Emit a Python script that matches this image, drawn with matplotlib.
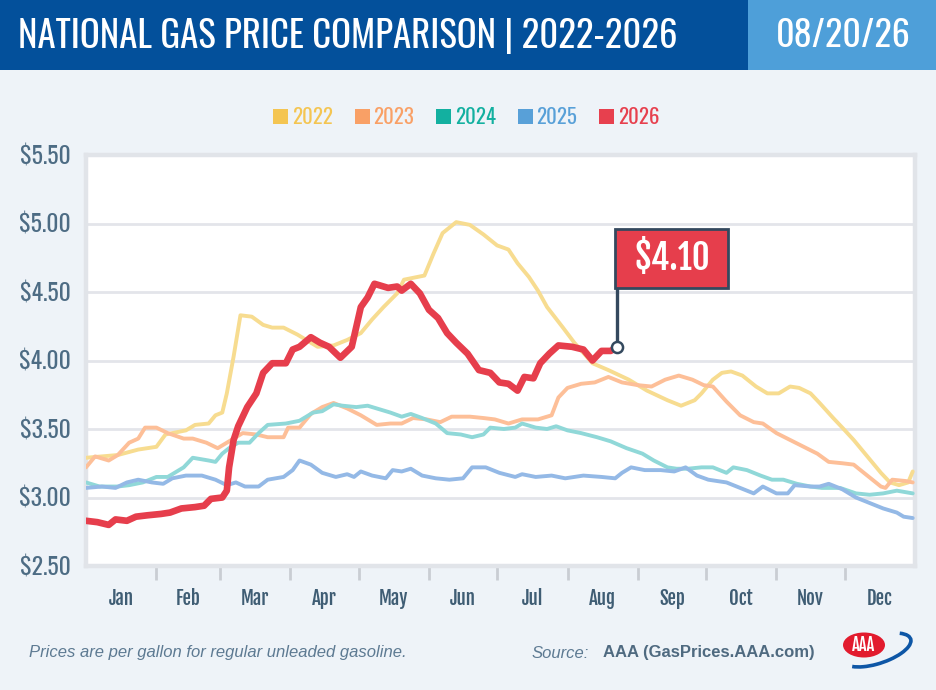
import matplotlib
matplotlib.use('Agg')
import matplotlib.pyplot as plt
from matplotlib.patches import Rectangle, Ellipse, Arc

W, H = 936, 690
COND = ['Oswald', 'Roboto Condensed', 'DejaVu Sans']
COND_BOLD = ['Fjalla One', 'Oswald', 'DejaVu Sans']
SANS = ['Liberation Sans', 'DejaVu Sans']

# day of year (0 = Jan 1) and average price
days_2022 = [0, 14, 23, 31, 35, 44, 48, 54, 57, 60, 62, 65, 68, 73, 78, 82, 87, 93, 102, 109,
             115, 121, 126, 131, 137, 140, 149, 153, 157, 163, 169, 175, 181, 186, 190, 195, 199, 203, 210, 215,
             223, 230, 239, 247, 256, 262, 268, 271, 276, 280, 284, 289, 295, 300, 305, 310, 314, 319, 323, 329,
             333, 338, 344, 350, 354, 358, 362, 364]
price_2022 = [3.29, 3.31, 3.35, 3.37, 3.46, 3.49, 3.53, 3.54, 3.60, 3.62, 3.76, 4.03, 4.33, 4.32, 4.26, 4.24, 4.24, 4.19, 4.10, 4.11,
              4.15, 4.20, 4.30, 4.39, 4.49, 4.59, 4.62, 4.78, 4.93, 5.01, 4.99, 4.92, 4.84, 4.81, 4.71, 4.61, 4.51, 4.39, 4.24, 4.13,
              3.98, 3.93, 3.86, 3.78, 3.71, 3.67, 3.71, 3.76, 3.86, 3.91, 3.92, 3.89, 3.81, 3.76, 3.76, 3.81, 3.80, 3.76, 3.69, 3.58,
              3.51, 3.42, 3.30, 3.18, 3.11, 3.09, 3.11, 3.19]

days_2023 = [0, 4, 10, 14, 19, 23, 26, 31, 36, 43, 47, 53, 58, 63, 69, 75, 80, 87, 89, 94,
             99, 104, 109, 115, 121, 128, 134, 139, 144, 150, 156, 161, 169, 175, 180, 186, 192, 199, 205, 208,
             212, 218, 224, 230, 236, 243, 249, 255, 261, 267, 272, 276, 282, 288, 294, 298, 304, 310, 316, 322,
             327, 333, 338, 344, 350, 352, 355, 361, 364]
price_2023 = [3.22, 3.30, 3.27, 3.31, 3.40, 3.43, 3.51, 3.51, 3.47, 3.43, 3.43, 3.40, 3.36, 3.41, 3.47, 3.46, 3.44, 3.44, 3.51, 3.51,
              3.61, 3.66, 3.69, 3.65, 3.60, 3.53, 3.54, 3.54, 3.58, 3.57, 3.55, 3.59, 3.59, 3.58, 3.57, 3.54, 3.57, 3.57, 3.60, 3.73,
              3.80, 3.83, 3.84, 3.88, 3.84, 3.82, 3.81, 3.86, 3.89, 3.86, 3.82, 3.81, 3.70, 3.60, 3.55, 3.54, 3.47, 3.42, 3.37, 3.32,
              3.26, 3.25, 3.24, 3.16, 3.08, 3.07, 3.13, 3.12, 3.11]

days_2024 = [0, 6, 14, 19, 25, 31, 36, 43, 47, 54, 57, 60, 63, 67, 72, 76, 80, 88, 94, 100,
             104, 109, 113, 119, 124, 128, 134, 139, 143, 148, 154, 159, 165, 170, 175, 178, 184, 189, 192, 198,
             203, 207, 212, 218, 225, 231, 238, 245, 250, 256, 260, 265, 271, 276, 282, 285, 291, 297, 302, 307,
             313, 319, 324, 332, 339, 345, 351, 357, 364]
price_2024 = [3.11, 3.08, 3.08, 3.09, 3.11, 3.15, 3.15, 3.22, 3.29, 3.27, 3.26, 3.32, 3.36, 3.40, 3.40, 3.47, 3.53, 3.54, 3.56, 3.62,
              3.63, 3.68, 3.67, 3.66, 3.67, 3.65, 3.62, 3.59, 3.61, 3.58, 3.54, 3.47, 3.46, 3.44, 3.46, 3.51, 3.50, 3.51, 3.54, 3.51,
              3.50, 3.52, 3.49, 3.47, 3.44, 3.41, 3.36, 3.32, 3.27, 3.22, 3.21, 3.21, 3.22, 3.22, 3.18, 3.22, 3.20, 3.16, 3.13, 3.13,
              3.10, 3.08, 3.07, 3.07, 3.03, 3.02, 3.03, 3.05, 3.03]

days_2025 = [0, 7, 13, 18, 23, 29, 34, 38, 44, 51, 57, 62, 66, 70, 76, 80, 87, 91, 94, 99,
             104, 110, 115, 118, 121, 126, 132, 135, 139, 143, 148, 154, 160, 166, 170, 176, 182, 189, 192, 198,
             205, 211, 219, 227, 233, 236, 240, 246, 253, 259, 264, 269, 274, 282, 288, 294, 298, 304, 309, 312,
             319, 323, 327, 333, 339, 345, 351, 357, 360, 364]
price_2025 = [3.07, 3.08, 3.07, 3.11, 3.13, 3.11, 3.10, 3.14, 3.16, 3.16, 3.13, 3.09, 3.11, 3.08, 3.08, 3.13, 3.15, 3.20, 3.27, 3.24,
              3.18, 3.15, 3.17, 3.15, 3.19, 3.16, 3.14, 3.20, 3.19, 3.21, 3.16, 3.14, 3.13, 3.14, 3.22, 3.22, 3.18, 3.15, 3.17, 3.15,
              3.16, 3.14, 3.16, 3.15, 3.14, 3.18, 3.22, 3.20, 3.20, 3.19, 3.22, 3.16, 3.13, 3.11, 3.07, 3.03, 3.08, 3.03, 3.03, 3.09,
              3.08, 3.08, 3.10, 3.06, 3.00, 2.96, 2.92, 2.89, 2.86, 2.85]

days_2026 = [0, 5, 10, 13, 18, 22, 27, 33, 37, 42, 48, 52, 55, 60, 62, 63, 65, 67, 71, 75,
             78, 82, 88, 91, 94, 99, 103, 107, 112, 117, 121, 124, 127, 133, 137, 139, 143, 147, 151, 155,
             159, 163, 168, 173, 178, 182, 186, 190, 193, 197, 200, 204, 208, 214, 219, 223, 227, 231, 234]
price_2026 = [2.83, 2.82, 2.80, 2.84, 2.83, 2.86, 2.87, 2.88, 2.89, 2.92, 2.93, 2.94, 2.99, 3.00, 3.05, 3.22, 3.42, 3.52, 3.66, 3.76,
              3.91, 3.98, 3.98, 4.08, 4.10, 4.17, 4.13, 4.10, 4.02, 4.10, 4.39, 4.46, 4.56, 4.53, 4.54, 4.51, 4.56, 4.49, 4.37, 4.31,
              4.20, 4.13, 4.05, 3.93, 3.91, 3.84, 3.83, 3.78, 3.88, 3.87, 3.98, 4.05, 4.11, 4.10, 4.08, 4.00, 4.07, 4.07, 4.10]

years = ['2022', '2023', '2024', '2025', '2026']
series_days = [days_2022, days_2023, days_2024, days_2025, days_2026]
series_price = [price_2022, price_2023, price_2024, price_2025, price_2026]
line_colors = ['#f7dc90', '#fdbf98', '#90d8d8', '#94b9e6', '#e63e4c']
legend_colors = ['#f4c552', '#f9a066', '#13b0a0', '#58a0d8', '#e7404e']

months = ['Jan', 'Feb', 'Mar', 'Apr', 'May', 'Jun', 'Jul', 'Aug', 'Sep', 'Oct', 'Nov', 'Dec']
month_len = [31, 28, 31, 30, 31, 30, 31, 31, 30, 31, 30, 31]
y_ticks = [2.5, 3.0, 3.5, 4.0, 4.5, 5.0, 5.5]

title = 'NATIONAL GAS PRICE COMPARISON | 2022-2026'
date_str = '08/20/26'

fig = plt.figure(figsize=(9.36, 6.9), dpi=100)
fig.patch.set_facecolor('#eef3f8')


def fx(x):
    return x / W


def fy(y):
    return 1 - y / H


# header band
fig.add_artist(Rectangle((0, fy(70)), fx(748), 70 / H, transform=fig.transFigure,
                         color='#03509b', lw=0))
fig.add_artist(Rectangle((fx(748), fy(70)), fx(188), 70 / H, transform=fig.transFigure,
                         color='#4e9fd9', lw=0))
fig.text(fx(18), fy(36), title, color='white', fontsize=26.5, family=COND, va='center', ha='left')
fig.text(fx(843), fy(36), date_str, color='white', fontsize=26, family=COND, va='center', ha='center')

# legend
for i, (yr, c) in enumerate(zip(years, legend_colors)):
    x0 = 273 + i * 81.5
    fig.add_artist(Rectangle((fx(x0), fy(124)), fx(15), 15 / H, transform=fig.transFigure,
                             color=c, lw=0))
    fig.text(fx(x0 + 19), fy(117), yr, color=c, fontsize=15, family=COND,
             va='center', ha='left')

# main plot
ax = fig.add_axes([fx(86), fy(566), fx(829), 411 / H])
ax.set_facecolor('white')
for i, yr in enumerate(years):
    lw = 4.8 if yr == '2026' else 2.8
    ax.plot(series_days[i], series_price[i], color=line_colors[i], lw=lw,
            solid_joinstyle='round', solid_capstyle='round', zorder=3 + i)

ax.set_xlim(0, 365)
ax.set_ylim(2.5, 5.5)
for s in ax.spines.values():
    s.set_color('#e1e4e9')
    s.set_linewidth(3.2)

ax.set_yticks(y_ticks)
ax.set_yticklabels([f'${v:.2f}' for v in y_ticks], family=COND, fontsize=17, color='#4d6c84')
ax.yaxis.grid(True, color='#e3e5ea', lw=2)
ax.tick_params(axis='y', length=0, pad=11)

bounds = []
mids = []
acc = 0
for n in month_len:
    mids.append(acc + n / 2)
    acc += n
    bounds.append(acc)
ax.set_xticks(bounds[:-1])
ax.set_xticklabels([])
ax.tick_params(axis='x', which='major', length=10, width=2, color='#c9cdd3', direction='out')
ax.set_xticks(mids, minor=True)
ax.set_xticklabels(months, minor=True, family=COND_BOLD, fontsize=13.5, color='#3f5d74')
ax.tick_params(axis='x', which='minor', length=0, pad=16)

# flag on the latest 2026 price
last_d, last_p = days_2026[-1], price_2026[-1]
ax.plot([last_d], [last_p], 'o', ms=8, mfc='white', mec='#34495e', mew=1.8, zorder=12, clip_on=False)
fig.canvas.draw()
ax_px = ax.transData.transform((last_d, last_p))
inv = ax.transData.inverted()
pole_top = inv.transform((ax_px[0], ax_px[1] + 118))
flag_bl = inv.transform((ax_px[0] - 2, ax_px[1] + 59))
flag_tr = inv.transform((ax_px[0] + 111, ax_px[1] + 118))
ax.plot([last_d, last_d], [last_p + 0.04, pole_top[1]], color='#34495e', lw=2.4, zorder=11,
        solid_capstyle='butt')
ax.add_patch(Rectangle(flag_bl, flag_tr[0] - flag_bl[0], flag_tr[1] - flag_bl[1],
                       facecolor='#e63e4c', edgecolor='#34495e', lw=2, zorder=11))
ax.text((flag_bl[0] + flag_tr[0]) / 2, (flag_bl[1] + flag_tr[1]) / 2, f'${last_p:.2f}',
        color='white', fontsize=25, family=COND_BOLD, ha='center', va='center', zorder=12)

# footer
fig.text(fx(29), fy(653), 'Prices are per gallon for regular unleaded gasoline.', color='#5d7a92',
         fontsize=12, style='italic', family=SANS, va='center', ha='left')
fig.text(fx(532), fy(653), 'Source:', color='#5d7a92', fontsize=12, style='italic', family=SANS,
         va='center', ha='left')
fig.text(fx(815), fy(653), 'AAA (GasPrices.AAA.com)', color='#4f6a80', fontsize=12,
         fontweight='bold', family=SANS, va='center', ha='right')

# AAA logo
fig.add_artist(Arc((fx(877), fy(650)), fx(74), 26 / H, angle=27, theta1=195, theta2=378,
                   transform=fig.transFigure, color='#0d56a6', lw=2.6))
fig.add_artist(Ellipse((fx(864), fy(645)), fx(42), 25 / H, transform=fig.transFigure,
                       color='#e21b2e', lw=0))
fig.text(fx(864), fy(645), 'AAA', color='white', fontsize=12, family=COND_BOLD,
         va='center', ha='center')

fig.savefig('out.png', dpi=100, facecolor=fig.get_facecolor())
